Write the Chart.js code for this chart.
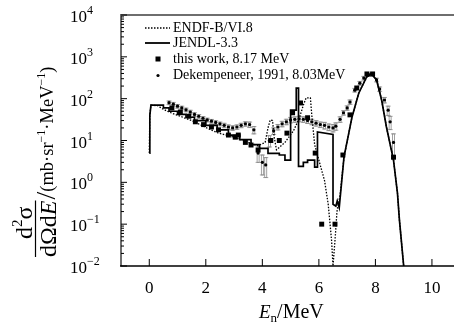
<!DOCTYPE html>
<html lang="en">
<head>
  <meta charset="UTF-8" />
  <title>Double differential cross section</title>
  <script src="https://cdn.jsdelivr.net/npm/chart.js"></script>
  <style>
    html, body { margin: 0; padding: 0; background: #fff; }
    #chart { display: block; }
  </style>
</head>
<body>
  <canvas id="chart" width="458" height="325"></canvas>

  <script>
    // ENDF-B/VI.8 evaluation (dotted)
    const endfE = [0, 0.02, 0.06, 0.3, 0.45, 0.7, 1.0, 1.5, 2.1, 2.45, 3.0, 3.5, 3.85, 4.1, 4.2, 4.28, 4.36, 4.42, 4.5,
      4.8, 5.1, 5.3, 5.45, 5.55, 5.7, 5.75, 5.85, 6.0, 6.2, 6.33, 6.45, 6.5, 6.58, 6.64, 6.75, 6.89, 7.03, 7.17,
      7.41, 7.69, 7.85, 8.04, 8.22, 8.39, 8.64, 8.78, 8.85, 9.0];
    const endfV = [5, 40, 70, 68, 58, 48, 40, 30, 19, 15, 12, 9, 7.5, 9, 20, 31, 30, 12, 6,
      9, 17, 33, 70, 105, 105, 40, 8, 3.4, 1.1, 0.3, 0.04, 0.01, 0.05, 0.2, 0.5, 4, 12, 36,
      135, 330, 390, 290, 93, 21, 3.4, 0.55, 0.125, 0.01];

    // JENDL-3.3 evaluation (solid, histogram-like)
    const jendlE = [0, 0.02, 0.06, 0.5, 0.5, 0.7, 0.7, 1.0, 1.0, 1.3, 1.3, 1.6, 1.6, 2.0, 2.0, 2.4, 2.4, 2.8, 2.8,
      3.2, 3.2, 3.6, 3.6, 3.9, 3.9, 4.2, 4.2, 4.6, 4.6, 4.8, 4.8, 5.0, 5.0, 5.2, 5.2, 5.28, 5.28, 5.45, 5.45,
      5.6, 5.6, 5.85, 5.85, 5.95, 5.95, 6.5, 6.5, 6.6, 6.65, 6.72, 6.89, 7.03, 7.17, 7.41, 7.69, 7.85, 8.04,
      8.22, 8.39, 8.64, 8.78, 8.85, 9.0];
    const jendlV = [5, 40, 70, 70, 60, 60, 50, 50, 42, 42, 36, 36, 30, 30, 23, 23, 18, 18, 13.5,
      13.5, 10.5, 10.5, 8, 8, 6.5, 6.5, 4.9, 4.9, 4.5, 4.5, 3.4, 3.4, 53, 53, 178, 178, 2.4, 2.4, 3.0,
      3.0, 3.4, 3.4, 2.3, 2.3, 16, 14, 0.3, 0.27, 0.36, 0.25, 4.1, 12, 36, 135, 330, 400, 280,
      93, 21, 3.4, 0.55, 0.125, 0.01];

    // this work, 8.17 MeV (squares)
    const workE = [0.8, 1.1, 1.4, 1.63, 1.92, 2.2, 2.45, 2.8, 3.04, 3.15, 3.4, 3.6, 3.85, 4.3, 4.6, 4.87, 5.07,
      5.35, 5.6, 5.87, 6.1, 6.57, 6.85, 7.1, 7.34, 7.7, 7.9, 8.64];
    const workV = [60, 48, 38, 28, 24, 21, 18, 13.5, 12, 13.5, 9, 7.8, 5.9, 10, 10, 15, 46,
      79, 35, 5, 0.1, 0.1, 4.5, 41, 180, 390, 390, 4];

    // Dekempeneer, 1991, 8.03 MeV (dots) with relative errors
    const dekE = [0.7, 0.85, 1.0, 1.15, 1.3, 1.45, 1.6, 1.75, 1.9, 2.05, 2.2, 2.35, 2.5, 2.65, 2.8, 2.95, 3.1,
      3.25, 3.4, 3.55, 3.7, 3.85, 4.0, 4.12, 4.25, 4.4, 4.55, 4.7, 4.85, 5.0, 5.15, 5.3, 5.45, 5.6, 5.75,
      5.9, 6.05, 6.2, 6.35, 6.5, 6.6, 6.75, 6.87, 7.0, 7.1, 7.27, 7.45, 7.59, 7.75, 7.9, 8.04, 8.15, 8.32,
      8.45, 8.52, 8.64];
    const dekV = [80, 74, 66, 60, 54, 48, 42, 38, 34, 31, 29, 27, 25, 23, 21, 20, 21,
      23, 25, 24, 18, 5, 3, 2.6, 10, 17, 21, 25, 28, 31, 32, 33, 32, 30, 28,
      26, 24, 23, 21, 20, 22, 32, 46, 60, 83, 160, 235, 310, 370, 380, 280, 170, 93,
      53, 28, 9];
    const dekErr = [0.1, 0.1, 0.1, 0.1, 0.1, 0.1, 0.1, 0.1, 0.1, 0.1, 0.1, 0.1, 0.1, 0.12, 0.12, 0.12, 0.12,
      0.12, 0.12, 0.15, 0.2, 0.4, 0.5, 0.5, 0.3, 0.18, 0.15, 0.15, 0.15, 0.15, 0.15, 0.15, 0.15, 0.15, 0.15,
      0.15, 0.15, 0.18, 0.18, 0.2, 0.2, 0.15, 0.12, 0.12, 0.12, 0.1, 0.1, 0.1, 0.08, 0.08, 0.1, 0.12, 0.15,
      0.25, 0.35, 0.6];

    const xTicks = [0, 2, 4, 6, 8, 10];
    const yDecades = [-2, -1, 0, 1, 2, 3, 4];

    const toPts = (xs, ys) => xs.map((x, i) => ({ x: x, y: ys[i] }));
    const serif = '"Liberation Serif", "DejaVu Serif", serif';

    // draw a run of text pieces one after another, each {t, size, dy, italic}
    function drawRun(ctx, x, y, pieces) {
      pieces.forEach((p) => {
        ctx.font = (p.italic ? "italic " : "") + p.size + "px " + serif;
        ctx.fillText(p.t, x, y + (p.dy || 0));
        x += ctx.measureText(p.t).width;
      });
      return x;
    }

    const framePlugin = {
      id: "frame",
      beforeDatasetsDraw(chart) {
        // error bars of Dekempeneer data
        const ctx = chart.ctx, xs = chart.scales.x, ys = chart.scales.y, a = chart.chartArea;
        ctx.save();
        ctx.beginPath();
        ctx.rect(a.left, a.top, a.right - a.left, a.bottom - a.top);
        ctx.clip();
        ctx.strokeStyle = "#8a8a8a";
        ctx.lineWidth = 0.8;
        dekE.forEach((e, i) => {
          const px = xs.getPixelForValue(e);
          const y1 = ys.getPixelForValue(dekV[i] * (1 + dekErr[i]));
          const y2 = ys.getPixelForValue(dekV[i] * (1 - dekErr[i]));
          ctx.strokeRect(px - 1, y1, 2, y2 - y1);
          ctx.beginPath();
          ctx.moveTo(px - 2.5, y1); ctx.lineTo(px + 2.5, y1);
          ctx.moveTo(px - 2.5, y2); ctx.lineTo(px + 2.5, y2);
          ctx.stroke();
        });
        ctx.restore();
      },
      afterDraw(chart) {
        const ctx = chart.ctx, xs = chart.scales.x, ys = chart.scales.y, a = chart.chartArea;
        ctx.save();

        // frame
        ctx.strokeStyle = "#6e6e6e";
        ctx.lineWidth = 2;
        ctx.beginPath();
        ctx.moveTo(a.left, a.bottom); ctx.lineTo(a.left, a.top); ctx.lineTo(a.right, a.top);
        ctx.stroke();
        ctx.strokeStyle = "#000";
        ctx.lineWidth = 1.5;
        ctx.beginPath();
        ctx.moveTo(a.left - 1, a.bottom); ctx.lineTo(a.right, a.bottom);
        ctx.stroke();

        // y ticks (inside), majors and minors
        ctx.lineWidth = 1;
        ctx.strokeStyle = "#000";
        ctx.beginPath();
        yDecades.forEach((d) => {
          const py = ys.getPixelForValue(Math.pow(10, d));
          ctx.moveTo(a.left, py); ctx.lineTo(a.left + 6, py);
          if (d < 4) {
            for (let m = 2; m <= 9; m++) {
              const pm = ys.getPixelForValue(m * Math.pow(10, d));
              ctx.moveTo(a.left, pm); ctx.lineTo(a.left + 3, pm);
            }
          }
        });
        // x ticks (inside)
        xTicks.forEach((t) => {
          const px = xs.getPixelForValue(t);
          ctx.moveTo(px, a.bottom); ctx.lineTo(px, a.bottom - 7);
        });
        ctx.stroke();

        // tick labels
        ctx.fillStyle = "#000";
        ctx.textBaseline = "alphabetic";
        ctx.textAlign = "left";
        yDecades.forEach((d) => {
          const py = ys.getPixelForValue(Math.pow(10, d));
          const sup = d < 0 ? "\u2212" + (-d) : String(d);
          drawRun(ctx, 70, py + 7, [{ t: "10", size: 17 }, { t: sup, size: 12, dy: -8 }]);
        });
        ctx.textAlign = "center";
        ctx.font = "17px " + serif;
        xTicks.forEach((t) => {
          ctx.fillText(String(t), xs.getPixelForValue(t), 293);
        });

        // x title
        ctx.textAlign = "left";
        drawRun(ctx, 259, 318, [
          { t: "E", size: 19, italic: true },
          { t: "n", size: 13, dy: 4 },
          { t: "/MeV", size: 20 }
        ]);

        // y title, rotated
        ctx.save();
        ctx.rotate(-Math.PI / 2);
        // numerator  d²σ
        drawRun(ctx, -239, 32, [
          { t: "d", size: 24 }, { t: "2", size: 15, dy: -10 }, { t: "\u03c3", size: 24 }
        ]);
        // denominator dΩdE
        const denEnd = drawRun(ctx, -257, 56, [
          { t: "d\u03a9d", size: 24 }, { t: "E", size: 24, italic: true }
        ]);
        ctx.lineWidth = 1.2;
        ctx.beginPath();
        ctx.moveTo(-257, 35.5); ctx.lineTo(denEnd, 35.5);
        ctx.stroke();
        // units
        drawRun(ctx, denEnd + 1, 53, [
          { t: "/", size: 28, dy: 2 },
          { t: "(mb\u00b7sr", size: 18.5 },
          { t: "\u22121", size: 12, dy: -8 },
          { t: "\u00b7MeV", size: 18.5 },
          { t: "\u22121", size: 12, dy: -8 },
          { t: ")", size: 18.5 }
        ]);
        ctx.restore();

        // legend
        const rows = [32, 47, 63, 79];
        const labels = ["ENDF-B/VI.8", "JENDL-3.3", "this work, 8.17 MeV", "Dekempeneer, 1991, 8.03MeV"];
        ctx.textAlign = "left";
        ctx.font = "14px " + serif;
        labels.forEach((l, i) => ctx.fillText(l, 173, rows[i]));
        ctx.beginPath();
        ctx.setLineDash([1.5, 1.5]);
        ctx.lineWidth = 1.3;
        ctx.moveTo(145, 28); ctx.lineTo(170, 28);
        ctx.stroke();
        ctx.setLineDash([]);
        ctx.lineWidth = 1.8;
        ctx.beginPath();
        ctx.moveTo(145, 43); ctx.lineTo(170, 43);
        ctx.stroke();
        ctx.fillRect(155.5, 56.5, 5, 5);
        ctx.beginPath();
        ctx.arc(158, 75.5, 1.6, 0, Math.PI * 2);
        ctx.fill();

        ctx.restore();
      }
    };

    new Chart(document.getElementById("chart"), {
      type: "scatter",
      data: {
        datasets: [
          {
            label: "ENDF-B/VI.8",
            data: toPts(endfE, endfV),
            showLine: true,
            borderColor: "#000",
            borderWidth: 1.3,
            borderDash: [1.5, 1.5],
            pointRadius: 0
          },
          {
            label: "JENDL-3.3",
            data: toPts(jendlE, jendlV),
            showLine: true,
            borderColor: "#000",
            borderWidth: 1.7,
            pointRadius: 0
          },
          {
            label: "this work, 8.17 MeV",
            data: toPts(workE, workV),
            pointStyle: "rect",
            pointRadius: 3.5,
            backgroundColor: "#000",
            borderColor: "#000",
            borderWidth: 0
          },
          {
            label: "Dekempeneer, 1991, 8.03MeV",
            data: toPts(dekE, dekV),
            pointStyle: "circle",
            pointRadius: 1.6,
            backgroundColor: "#000",
            borderColor: "#000",
            borderWidth: 0
          }
        ]
      },
      options: {
        responsive: false,
        devicePixelRatio: 1,
        animation: false,
        layout: { padding: { left: 121, right: 0, top: 15, bottom: 59 } },
        plugins: { legend: { display: false }, tooltip: { enabled: false } },
        scales: {
          x: { type: "linear", min: -1, max: 10.78, display: false },
          y: { type: "logarithmic", min: 0.01, max: 10000, display: false }
        }
      },
      plugins: [framePlugin]
    });
  </script>
</body>
</html>
